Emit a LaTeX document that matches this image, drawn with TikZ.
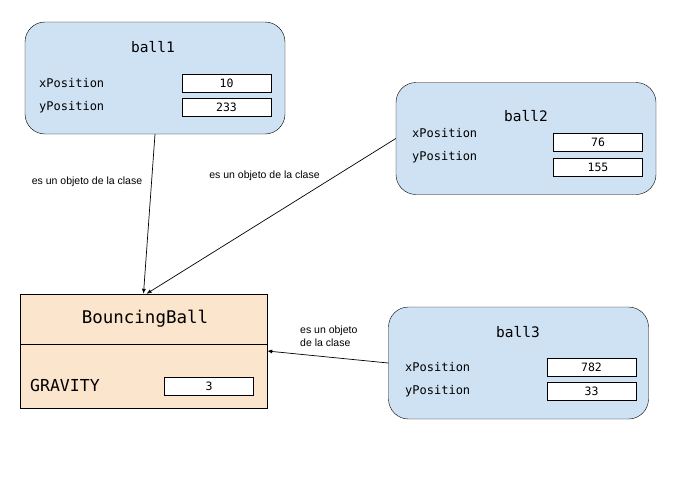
\documentclass[tikz,border=0pt]{standalone}
\usepackage{fontspec}
\setmainfont{Liberation Sans}
\newfontfamily\codefont{DejaVu Sans Mono}
\usetikzlibrary{arrows.meta}
\definecolor{objblue}{HTML}{CFE2F3}
\definecolor{clspeach}{HTML}{FCE5CD}

\begin{document}
\begin{tikzpicture}[x=1pt,y=-1pt,
  obj/.style={draw,rounded corners=20pt,fill=objblue,minimum width=260pt,minimum height=112pt},
  field/.style={draw,fill=white,minimum width=89pt,minimum height=18pt,inner sep=0pt,font=\codefont\fontsize{11.5}{12}\selectfont},
  attr/.style={anchor=west,inner sep=0pt,font=\codefont\fontsize{12}{14}\selectfont},
  title/.style={inner sep=0pt,font=\codefont\fontsize{14.5}{16}\selectfont},
  rel/.style={-{Latex[length=5pt,width=4pt]},line width=0.7pt},
  lbl/.style={inner sep=0pt,font=\fontsize{10.5}{13}\selectfont}]
\useasboundingbox (0,0) rectangle (688,482);

\node [obj] (ball1) at (155,78) {};
\node [title] (t1) at (153,47) {ball1};
\node [attr] (x1) at (39,83) {xPosition};
\node [attr] (y1) at (39,107) {yPosition};
\node [field] (xv1) at (226.5,83) {10};
\node [field] (yv1) at (226.5,107) {233};

\node [obj] (ball2) at (526,138.5) {};
\node [title] (t2) at (526,116) {ball2};
\node [attr] (x2) at (412,133) {xPosition};
\node [attr] (y2) at (412,157) {yPosition};
\node [field] (xv2) at (598,142.5) {76};
\node [field] (yv2) at (598,167) {155};

\node [obj] (ball3) at (518.5,363) {};
\node [title] (t3) at (518,332) {ball3};
\node [attr] (x3) at (405,367) {xPosition};
\node [attr] (y3) at (405,391) {yPosition};
\node [field] (xv3) at (591.5,367.5) {782};
\node [field] (yv3) at (591.5,391) {33};

\node [draw,fill=clspeach,minimum width=247pt,minimum height=114pt] (bb) at (143.5,351) {};
\coordinate (div) at (0,344);
\draw (bb.west |- div) -- (bb.east |- div);
\node [inner sep=0pt,font=\codefont\fontsize{17.5}{20}\selectfont] (bbname) at (145,319) {BouncingBall};
\node [attr,font=\codefont\fontsize{16.5}{18}\selectfont] (grav) at (30,385) {GRAVITY};
\node [field] (gv) at (209,386) {3};

\draw [rel] (ball1.south) -- (bb.north);
\draw [rel] (ball2.west) -- ([xshift=3pt]bb.north);
\draw [rel] (ball3.west) -- (bb.east);

\node [lbl] (l1) at (87,182) {es un objeto de la clase};
\node [lbl] (l2) at (264.5,176) {es un objeto de la clase};
\node [lbl,anchor=west,align=left] (l3) at (300,336) {es un objeto\\de la clase};
\end{tikzpicture}
\end{document}
